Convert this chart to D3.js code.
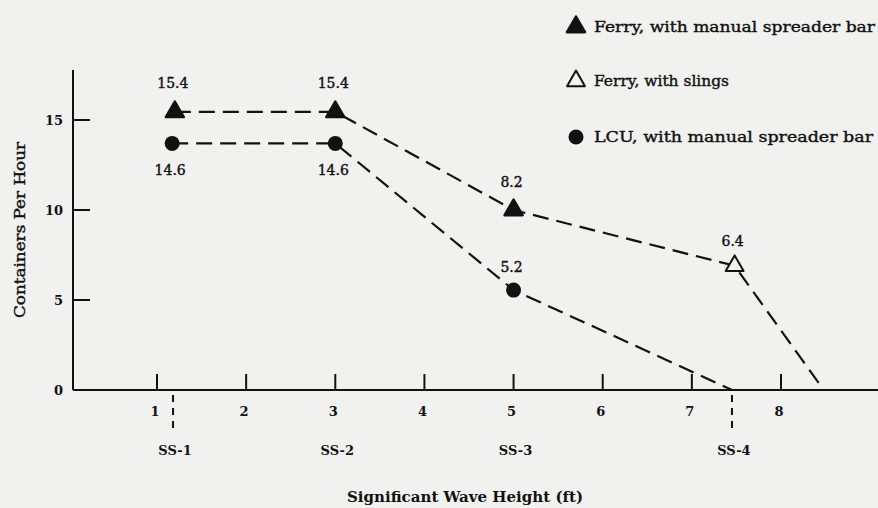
<!DOCTYPE html>
<html><head><meta charset="utf-8">
<script src="https://cdn.jsdelivr.net/npm/d3@7"></script>
<style>
html,body{margin:0;padding:0;background:#f1f1ef;}
svg{display:block;}
text{font-family:"DejaVu Serif",serif;fill:#111;}
text.semi{stroke:#111;stroke-width:0.4px;}
</style></head><body>
<script>
// ---- data ----
const xTicks = [1,2,3,4,5,6,7,8];
const yTicks = [0,5,10,15];
// Ferry, manual spreader bar (filled triangles)
const ferryX = [1.2, 3, 5];
const ferryY = [15.45, 15.45, 10.0];
const ferryLabels = ["15.4","15.4","8.2"];
// Ferry, slings (open triangle)
const slingX = [7.48];
const slingY = [6.9];
const slingLabels = ["6.4"];
// Ferry dashed path (continues to the axis)
const ferryLineX = [1.2, 3, 5, 7.48, 8.48];
const ferryLineY = [15.45, 15.45, 10.0, 6.9, 0];
// LCU, manual spreader bar (filled circles)
const lcuX = [1.17, 3, 5];
const lcuY = [13.7, 13.7, 5.55];
const lcuLabels = ["14.6","14.6","5.2"];
const lcuLineX = [1.17, 3, 5, 7.45];
const lcuLineY = [13.7, 13.7, 5.55, 0];
// Sea states
const seaStates = ["SS-1","SS-2","SS-3","SS-4"];
const seaStateX = [1.18, 3, 5, 7.45];
const seaStateDashed = [true,false,false,true];
const legendLabels = ["Ferry, with manual spreader bar","Ferry, with slings","LCU, with manual spreader bar"];

const W=878,H=508;
const svg=d3.select("body").append("svg").attr("width",W).attr("height",H);
const x=d3.scaleLinear().domain([1,8]).range([157,781]);
const y=d3.scaleLinear().domain([0,15]).range([390,120]);
const x0=73;

// axes lines
svg.append("line").attr("x1",x0).attr("x2",x0).attr("y1",70).attr("y2",y(0)).attr("stroke","#111").attr("stroke-width",2);
svg.append("line").attr("x1",x0).attr("x2",W).attr("y1",y(0)).attr("y2",y(0)).attr("stroke","#111").attr("stroke-width",2);

// y ticks
const yAxis=svg.append("g");
yAxis.selectAll("line").data(yTicks.filter(d=>d>0)).join("line")
 .attr("x1",x0).attr("x2",x0+17).attr("y1",d=>y(d)).attr("y2",d=>y(d)).attr("stroke","#111").attr("stroke-width",2);
yAxis.selectAll("text").data(yTicks).join("text")
 .attr("x",x0-10).attr("y",d=>y(d)).attr("dy","0.35em").attr("text-anchor","end")
 .style("font-size","13px").style("font-weight","bold").text(d=>d);

// x ticks
const xAxis=svg.append("g");
xAxis.selectAll("line").data(xTicks).join("line")
 .attr("x1",d=>x(d)).attr("x2",d=>x(d)).attr("y1",y(0)-16).attr("y2",y(0)).attr("stroke","#111").attr("stroke-width",2);
xAxis.selectAll("text").data(xTicks).join("text")
 .attr("x",d=>x(d)-2).attr("y",y(0)+26).attr("text-anchor","middle")
 .style("font-size","13px").style("font-weight","bold").text(d=>d);

// sea state markers
seaStates.forEach((s,i)=>{
  if(seaStateDashed[i]){
    svg.append("line").attr("x1",x(seaStateX[i])).attr("x2",x(seaStateX[i]))
     .attr("y1",y(0)+5).attr("y2",y(0)+43).attr("stroke","#111").attr("stroke-width",2).attr("stroke-dasharray","7,6");
  }
  svg.append("text").attr("x",x(seaStateX[i])+2).attr("y",455).attr("text-anchor","middle")
   .style("font-size","13px").style("font-weight","bold").text(s);
});

// titles
svg.append("text").attr("x",465).attr("y",502).attr("text-anchor","middle")
 .style("font-size","14px").style("font-weight","bold").attr("textLength",236).attr("lengthAdjust","spacingAndGlyphs")
 .text("Significant Wave Height (ft)");
svg.append("text").attr("class","semi").attr("transform","translate(25,230) rotate(-90)").attr("text-anchor","middle")
 .style("font-size","14px").attr("textLength",176).attr("lengthAdjust","spacingAndGlyphs")
 .text("Containers Per Hour");

// lines
const line=d3.line().x(d=>x(d[0])).y(d=>y(d[1]));
svg.append("path").datum(ferryLineX.map((v,i)=>[v,ferryLineY[i]])).attr("d",line)
 .attr("fill","none").attr("stroke","#111").attr("stroke-width",2.2).attr("stroke-dasharray","16,8");
svg.append("path").datum(lcuLineX.map((v,i)=>[v,lcuLineY[i]])).attr("d",line)
 .attr("fill","none").attr("stroke","#111").attr("stroke-width",2.2).attr("stroke-dasharray","16,8");

// markers
const tri=d3.symbol().type(d3.symbolTriangle).size(140);
svg.selectAll(".ft").data(ferryX.map((v,i)=>[v,ferryY[i]])).join("path")
 .attr("transform",d=>`translate(${x(d[0])},${y(d[1])})`).attr("d",tri).attr("fill","#111").attr("stroke","#111").attr("stroke-width",2.5).attr("stroke-linejoin","round");
svg.selectAll(".st").data(slingX.map((v,i)=>[v,slingY[i]])).join("path")
 .attr("transform",d=>`translate(${x(d[0])},${y(d[1])})`).attr("d",tri).attr("fill","#f1f1ef").attr("stroke","#111").attr("stroke-width",2).attr("stroke-linejoin","round");
svg.selectAll(".lc").data(lcuX.map((v,i)=>[v,lcuY[i]])).join("circle")
 .attr("cx",d=>x(d[0])).attr("cy",d=>y(d[1])).attr("r",7.5).attr("fill","#111");

// value labels
const lab=(xs,ys,ls,dy)=>svg.append("g").selectAll("text").data(ls).join("text").attr("class","semi")
 .attr("x",(d,i)=>x(xs[i])-2).attr("y",(d,i)=>y(ys[i])+dy[i]).attr("text-anchor","middle")
 .style("font-size","14px").text(d=>d);
lab(ferryX,ferryY,ferryLabels,[-24,-24,-23]);
lab(slingX,slingY,slingLabels,[-20]);
lab(lcuX,lcuY,lcuLabels,[32,32,-18]);

// legend
const lg=svg.append("g");
const ly=[27,81,137];
lg.append("path").attr("transform",`translate(576,${ly[0]})`).attr("d",tri).attr("fill","#111").attr("stroke","#111").attr("stroke-width",2.5).attr("stroke-linejoin","round");
lg.append("path").attr("transform",`translate(576,${ly[1]})`).attr("d",tri).attr("fill","#f1f1ef").attr("stroke","#111").attr("stroke-width",2).attr("stroke-linejoin","round");
lg.append("circle").attr("cx",576).attr("cy",ly[2]).attr("r",7.5).attr("fill","#111");
const lw=[281,135,279];
legendLabels.forEach((t,i)=>{
  lg.append("text").attr("class","semi").attr("x",594).attr("y",ly[i]).attr("dy","0.35em")
   .style("font-size","15px").attr("textLength",lw[i]).attr("lengthAdjust","spacingAndGlyphs").text(t);
});
</script></body></html>
